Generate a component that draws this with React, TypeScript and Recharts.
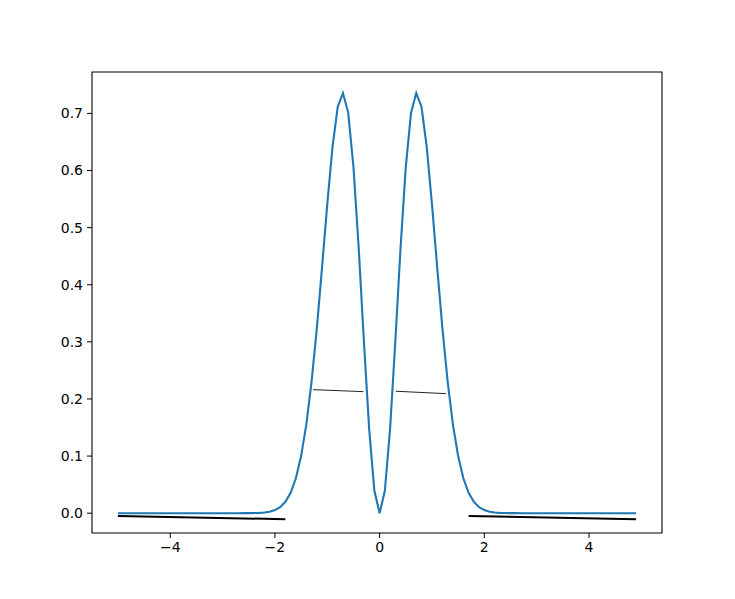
import { LineChart, Line, XAxis, YAxis, ReferenceArea } from "recharts";

// x positions of the sampled curve
const curveX = [
  -5.0, -4.9, -4.8, -4.7, -4.6, -4.5, -4.4, -4.3, -4.2, -4.1,
  -4.0, -3.9, -3.8, -3.7, -3.6, -3.5, -3.4, -3.3, -3.2, -3.1,
  -3.0, -2.9, -2.8, -2.7, -2.6, -2.5, -2.4, -2.3, -2.2, -2.1,
  -2.0, -1.9, -1.8, -1.7, -1.6, -1.5, -1.4, -1.3, -1.2, -1.1,
  -1.0, -0.9, -0.8, -0.7, -0.6, -0.5, -0.4, -0.3, -0.2, -0.1,
  0.0, 0.1, 0.2, 0.3, 0.4, 0.5, 0.6, 0.7, 0.8, 0.9,
  1.0, 1.1, 1.2, 1.3, 1.4, 1.5, 1.6, 1.7, 1.8, 1.9,
  2.0, 2.1, 2.2, 2.3, 2.4, 2.5, 2.6, 2.7, 2.8, 2.9,
  3.0, 3.1, 3.2, 3.3, 3.4, 3.5, 3.6, 3.7, 3.8, 3.9,
  4.0, 4.1, 4.2, 4.3, 4.4, 4.5, 4.6, 4.7, 4.8, 4.9,
];

const curveY = [
  0, 0, 0, 0, 0, 0, 0, 0, 0, 0,
  0, 0, 0, 0, 0, 0, 0, 0, 0, 0,
  0, 0, 0, 0.00001, 0.00004, 0.00009, 0.00023, 0.00054, 0.00121, 0.0026,
  0.00537, 0.0106, 0.0199, 0.0357, 0.0612, 0.1, 0.1556, 0.2302, 0.3233, 0.4304,
  0.5413, 0.6412, 0.7117, 0.7356, 0.701, 0.6065, 0.4647, 0.3007, 0.1477, 0.0392,
  0, 0.0392, 0.1477, 0.3007, 0.4647, 0.6065, 0.701, 0.7356, 0.7117, 0.6412,
  0.5413, 0.4304, 0.3233, 0.2302, 0.1556, 0.1, 0.0612, 0.0357, 0.0199, 0.0106,
  0.00537, 0.0026, 0.00121, 0.00054, 0.00023, 0.00009, 0.00004, 0.00001, 0, 0,
  0, 0, 0, 0, 0, 0, 0, 0, 0, 0,
  0, 0, 0, 0, 0, 0, 0, 0, 0, 0,
];

// black baseline segments under the tails
const leftBaseX = [-5.0, -1.8];
const leftBaseY = [-0.005, -0.0105];
const rightBaseX = [1.7, 4.9];
const rightBaseY = [-0.005, -0.0105];

// thin segments across the two peaks
const leftMidX = [-1.27, -0.31];
const leftMidY = [0.2163, 0.2128];
const rightMidX = [0.31, 1.27];
const rightMidY = [0.2135, 0.2093];

const xTicks = [-4, -2, 0, 2, 4];
const yTicks = [0, 0.1, 0.2, 0.3, 0.4, 0.5, 0.6, 0.7];

const X_DOMAIN: [number, number] = [-5.495, 5.395];
const Y_DOMAIN: [number, number] = [-0.0347, 0.7725];

const zip = (xs: number[], ys: number[]) => xs.map((x, i) => ({ x, y: ys[i] }));

const curve = zip(curveX, curveY);
const leftBase = zip(leftBaseX, leftBaseY);
const rightBase = zip(rightBaseX, rightBaseY);
const leftMid = zip(leftMidX, leftMidY);
const rightMid = zip(rightMidX, rightMidY);

const tickStyle = { fill: "#000", fontSize: 14, fontFamily: "DejaVu Sans" };

export default function App() {
  return (
    <div style={{ position: "absolute", left: 0, top: 0, background: "#fff" }}>
      <LineChart
        width={735}
        height={599}
        margin={{ top: 72, right: 73, bottom: 0, left: 0 }}
      >
        <XAxis
          dataKey="x"
          type="number"
          domain={X_DOMAIN}
          ticks={xTicks}
          allowDataOverflow
          axisLine={false}
          tickLine={{ stroke: "#000", strokeWidth: 1 }}
          tickSize={5}
          tickMargin={4}
          height={66}
          tick={tickStyle}
          tickFormatter={(v: number) => (v < 0 ? `\u2212${Math.abs(v)}` : `${v}`)}
        />
        <YAxis
          type="number"
          domain={Y_DOMAIN}
          ticks={yTicks}
          allowDataOverflow
          axisLine={false}
          tickLine={{ stroke: "#000", strokeWidth: 1 }}
          tickSize={5}
          tickMargin={4}
          width={92}
          tick={tickStyle}
          tickFormatter={(v: number) => v.toFixed(1)}
        />
        <ReferenceArea
          x1={X_DOMAIN[0]}
          x2={X_DOMAIN[1]}
          y1={Y_DOMAIN[0]}
          y2={Y_DOMAIN[1]}
          fill="none"
          stroke="#000"
          strokeWidth={1.1}
          ifOverflow="visible"
        />
        <Line
          data={leftBase}
          dataKey="y"
          stroke="#000"
          strokeWidth={2}
          dot={false}
          activeDot={false}
          isAnimationActive={false}
        />
        <Line
          data={rightBase}
          dataKey="y"
          stroke="#000"
          strokeWidth={2}
          dot={false}
          activeDot={false}
          isAnimationActive={false}
        />
        <Line
          data={leftMid}
          dataKey="y"
          stroke="#222"
          strokeWidth={1}
          dot={false}
          activeDot={false}
          isAnimationActive={false}
        />
        <Line
          data={rightMid}
          dataKey="y"
          stroke="#222"
          strokeWidth={1}
          dot={false}
          activeDot={false}
          isAnimationActive={false}
        />
        <Line
          data={curve}
          dataKey="y"
          type="linear"
          stroke="#1f77b4"
          strokeWidth={2.1}
          dot={false}
          activeDot={false}
          isAnimationActive={false}
        />
      </LineChart>
    </div>
  );
}
